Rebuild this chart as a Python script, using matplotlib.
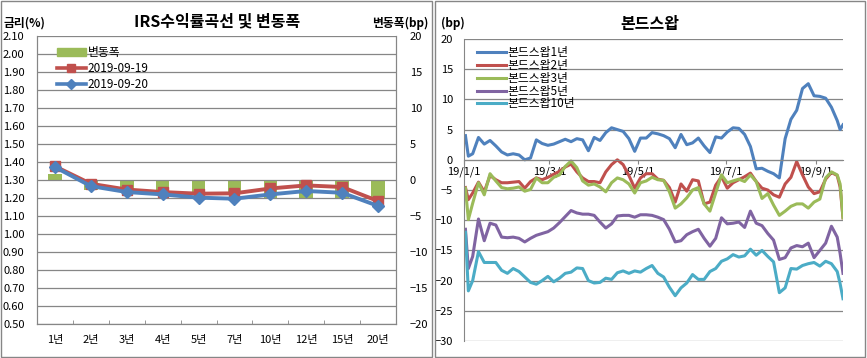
import matplotlib
matplotlib.use('Agg')
import matplotlib.pyplot as plt
from matplotlib.patches import Rectangle, Patch
from matplotlib.lines import Line2D

plt.rcParams['font.family'] = ['Noto Sans CJK KR', 'DejaVu Sans']

# ---------------- Left chart data ----------------
tenors = ['1년', '2년', '3년', '4년', '5년', '7년', '10년', '12년', '15년', '20년']
rate_0919 = [1.376, 1.279, 1.247, 1.233, 1.224, 1.226, 1.253, 1.270, 1.261, 1.183]
rate_0920 = [1.372, 1.266, 1.233, 1.220, 1.202, 1.196, 1.220, 1.239, 1.229, 1.156]
change_bp = [0.8, -1.4, -1.4, -1.6, -2.0, -2.0, -2.6, -2.6, -2.5, -2.6]

# ---------------- Right chart data ----------------
# days since 2019-01-01
days = [1, 3, 6, 10, 14, 18, 22, 26, 30, 34, 38, 42, 46, 50, 54, 58, 62, 66, 70, 74,
        78, 82, 86, 90, 94, 98, 102, 106, 110, 114, 118, 122, 126, 130, 134, 138, 142,
        146, 150, 154, 158, 162, 166, 170, 174, 178, 182, 186, 190, 194, 198, 202, 206,
        210, 214, 218, 222, 226, 230, 234, 238, 242, 246, 250, 254, 258, 260, 262]
swap_1y = [4.0, 0.6, 1.0, 3.7, 2.6, 3.2, 2.3, 1.3, 0.8, 1.0, 0.8, 0.0, 0.3, 3.3, 2.7,
           2.4, 2.6, 3.0, 3.4, 3.0, 3.5, 3.3, 1.5, 3.7, 3.2, 4.5, 5.3, 5.0, 4.7, 3.5,
           1.4, 3.6, 3.6, 4.5, 4.3, 4.0, 3.5, 2.0, 4.2, 2.5, 2.8, 3.6, 2.3, 1.2, 3.8,
           3.6, 4.6, 5.3, 5.2, 4.2, 2.2, -1.5, -1.4, -1.9, -2.3, -3.0, 3.5, 6.7, 8.2,
           11.8, 12.6, 10.6, 10.5, 10.2, 8.7, 6.5, 5.0, 5.8]
swap_2y = [-4.6, -6.6, -5.5, -3.7, -5.3, -2.6, -3.3, -3.8, -3.8, -3.7, -3.6, -4.7,
           -3.6, -3.0, -3.3, -2.9, -2.4, -1.9, -1.2, -0.7, -2.0, -3.0, -3.6, -3.6,
           -3.8, -2.0, -0.8, 0.0, -0.8, -2.6, -4.7, -3.0, -2.3, -2.3, -3.2, -3.4,
           -4.6, -7.0, -4.0, -5.2, -3.3, -3.5, -7.3, -7.0, -4.2, -2.8, -4.7, -3.8,
           -3.3, -2.8, -2.2, -3.6, -4.7, -5.0, -5.8, -6.2, -4.0, -2.9, -0.3, -2.5,
           -4.5, -5.6, -5.3, -3.2, -2.1, -2.6, -4.5, -9.6]
swap_3y = [-4.7, -9.9, -7.2, -3.8, -5.8, -2.3, -3.5, -4.6, -4.8, -4.7, -4.5, -5.2,
           -4.9, -3.0, -3.8, -3.8, -2.9, -2.5, -1.1, -0.2, -1.3, -3.5, -4.2, -4.0,
           -4.5, -5.3, -3.8, -3.0, -3.3, -4.0, -5.5, -3.8, -3.5, -2.9, -3.3, -3.4,
           -5.3, -8.0, -7.3, -6.3, -5.0, -4.6, -7.3, -8.5, -5.5, -2.5, -3.8, -3.5,
           -3.2, -3.6, -2.5, -3.6, -6.4, -5.6, -7.5, -9.2, -8.5, -7.7, -7.3, -7.3,
           -8.0, -7.0, -6.5, -3.0, -2.0, -2.5, -4.0, -9.6]
swap_5y = [-11.5, -18.0, -16.0, -9.8, -13.4, -10.5, -10.8, -12.8, -12.9, -12.8, -13.0,
           -13.6, -13.0, -12.5, -12.2, -11.9, -11.3, -10.4, -9.4, -8.4, -8.8, -9.0,
           -9.0, -9.2, -10.3, -11.3, -10.6, -9.3, -9.2, -9.2, -9.5, -9.1, -9.1, -9.2,
           -9.5, -9.9, -11.5, -13.6, -13.4, -12.4, -11.9, -11.5, -13.0, -14.3, -13.0,
           -9.6, -10.6, -10.5, -10.3, -11.2, -8.5, -10.5, -10.9, -12.2, -13.3, -16.5,
           -16.2, -14.6, -14.2, -14.4, -13.8, -16.2, -15.0, -13.8, -11.0, -12.8,
           -15.5, -18.8]
swap_10y = [-12.0, -21.7, -20.0, -15.2, -17.0, -17.0, -17.0, -18.3, -18.8, -18.0,
            -18.5, -19.4, -20.3, -20.6, -20.0, -19.3, -20.2, -19.6, -18.8, -18.6,
            -17.9, -18.0, -20.0, -20.4, -20.3, -19.6, -19.8, -18.7, -18.4, -18.8,
            -18.4, -18.6, -18.0, -17.5, -18.8, -19.4, -21.1, -22.5, -21.2, -20.4,
            -19.0, -19.8, -19.8, -18.5, -18.0, -16.8, -16.4, -15.7, -16.1, -15.9,
            -14.8, -15.8, -15.0, -16.0, -16.9, -22.0, -21.2, -18.0, -18.1, -17.5,
            -17.2, -17.0, -17.6, -16.8, -17.2, -18.5, -20.5, -23.0]
swap_labels = ['본드스왑1년', '본드스왑2년', '본드스왑3년', '본드스왑5년', '본드스왑10년']
month_ticks = [0, 59, 120, 181, 243]
month_labels = ['19/1/1', '19/3/1', '19/5/1', '19/7/1', '19/9/1']

C_BLUE = '#4F81BD'
C_RED = '#C0504D'
C_GREEN = '#9BBB59'
C_PURPLE = '#8064A2'
C_CYAN = '#4BACC6'
GRID = '#868686'
W, H = 867, 358

fig = plt.figure(figsize=(W / 100, H / 100), dpi=100)

def fx(px):
    return px / W

def fy(py):
    return 1 - py / H

# panel borders
fig.patches.append(Rectangle((fx(0.5), fy(356.5)), fx(431), (356.5 - 1) / H,
                             transform=fig.transFigure, fill=False, ec=GRID, lw=1))
fig.patches.append(Rectangle((fx(434.5), fy(356.5)), fx(430.5), (356.5 - 1) / H,
                             transform=fig.transFigure, fill=False, ec=GRID, lw=1))

# ---------------- Left chart ----------------
axL = fig.add_axes([fx(37), fy(324), fx(396 - 37), (324 - 36) / H])
axR = axL.twinx()
axL.set_zorder(2)
axR.set_zorder(1)
axL.patch.set_visible(False)

x = list(range(len(tenors)))
axR.bar(x, change_bp, width=0.38, color=C_GREEN, zorder=1)
axR.set_ylim(-20, 20)
axR.set_yticks(range(-20, 21, 5))

axL.plot(x, rate_0919, color=C_RED, lw=2.8, marker='s', ms=7, zorder=3)
axL.plot(x, rate_0920, color=C_BLUE, lw=2.8, marker='D', ms=6, zorder=4)
axL.set_ylim(0.5, 2.1)
axL.set_yticks([0.5 + 0.1 * i for i in range(17)])
axL.set_yticklabels([f'{0.5 + 0.1 * i:.2f}' for i in range(17)])
axL.set_xlim(-0.5, len(tenors) - 0.5)
axL.set_xticks(x)
axL.set_xticklabels(tenors)
axL.set_xticks([i + 0.5 for i in range(len(tenors) - 1)], minor=True)
axL.grid(axis='y', color=GRID, lw=0.9)
axL.tick_params(axis='x', which='major', length=0, pad=8, labelsize=8)
axL.tick_params(axis='x', which='minor', length=3, direction='in', color=GRID)
axL.tick_params(axis='y', length=0, pad=9, labelsize=8)
axR.tick_params(axis='y', length=0, pad=10, labelsize=8)
for a in (axL, axR):
    a.spines['top'].set_visible(False)
    for s in ('left', 'right', 'bottom'):
        a.spines[s].set_color(GRID)

handles = [Patch(color=C_GREEN),
           Line2D([], [], color=C_RED, lw=2.6, marker='s', ms=6),
           Line2D([], [], color=C_BLUE, lw=2.6, marker='D', ms=5)]
axL.legend(handles, ['변동폭', '2019-09-19', '2019-09-20'], loc='upper left',
           bbox_to_anchor=(0.04, 0.985), frameon=False, fontsize=8.5,
           handlelength=2.4, handletextpad=0.2, labelspacing=0.25, borderpad=0)

fig.text(fx(217), fy(21), 'IRS수익률곡선 및 변동폭', ha='center', va='center',
         fontsize=11.5, fontweight='bold')
fig.text(fx(4), fy(23), '금리(%)', ha='left', va='center', fontsize=8.5, fontweight='bold')
fig.text(fx(428), fy(23), '변동폭(bp)', ha='right', va='center', fontsize=8.5,
         fontweight='bold')

# ---------------- Right chart ----------------
ax3 = fig.add_axes([fx(464), fy(341), fx(843 - 464), (341 - 39) / H])
series = [swap_1y, swap_2y, swap_3y, swap_5y, swap_10y]
colors = [C_BLUE, C_RED, C_GREEN, C_PURPLE, C_CYAN]
for vals, c, lab in zip(series, colors, swap_labels):
    ax3.plot(days, vals, color=c, lw=2.2, label=lab, solid_joinstyle='round')
ax3.set_xlim(0, 262)
ax3.set_ylim(-30, 20)
ax3.set_yticks(range(-30, 21, 5))
ax3.set_xticks(month_ticks)
ax3.set_xticklabels(month_labels)
ax3.grid(axis='y', color=GRID, lw=0.9)
ax3.set_axisbelow(True)
ax3.spines['bottom'].set_position(('data', 0))
ax3.spines['bottom'].set_color(GRID)
ax3.spines['left'].set_color(GRID)
ax3.spines['top'].set_visible(False)
ax3.spines['right'].set_visible(False)
ax3.tick_params(axis='x', length=3, color=GRID, pad=2, labelsize=8)
ax3.tick_params(axis='y', length=0, pad=8, labelsize=8)
ax3.legend(loc='upper left', bbox_to_anchor=(0.02, 0.995), frameon=False,
           fontsize=8.5, handlelength=2.4, handletextpad=0.15, labelspacing=-0.02,
           borderpad=0)

fig.text(fx(650), fy(24), '본드스왑', ha='center', va='center', fontsize=11.5,
         fontweight='bold')
fig.text(fx(441), fy(23), '(bp)', ha='left', va='center', fontsize=8.5,
         fontweight='bold')

fig.savefig('out.png', dpi=100)
